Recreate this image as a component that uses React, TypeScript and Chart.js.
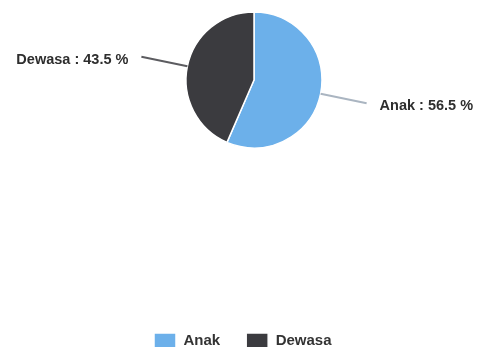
import React, { useEffect, useRef } from "react";
import { Chart, registerables } from "chart.js";

Chart.register(...registerables);

const categories = ["Anak", "Dewasa"];
const values = [56.5, 43.5];
const sliceColors = ["#6cb0ea", "#3b3b3f"];
const leaderColors = ["#aab5c1", "#5c5c60"];

const labelFont = "bold 14.5px 'Liberation Sans', Arial, sans-serif";

const outerLabels = {
  id: "outerLabels",
  afterDatasetsDraw(chart: any) {
    const ctx = chart.ctx;
    const meta = chart.getDatasetMeta(0);
    meta.data.forEach((arc: any, i: number) => {
      const { x, y, startAngle, endAngle, outerRadius } = arc.getProps(
        ["x", "y", "startAngle", "endAngle", "outerRadius"],
        true
      );
      const mid = (startAngle + endAngle) / 2;
      const c = Math.cos(mid);
      const s = Math.sin(mid);
      const x1 = x + outerRadius * c;
      const y1 = y + outerRadius * s;
      const x2 = x + (outerRadius + 47) * c;
      const y2 = y + (outerRadius + 47) * s;
      ctx.save();
      ctx.strokeStyle = leaderColors[i];
      ctx.lineWidth = 2;
      ctx.beginPath();
      ctx.moveTo(x1, y1);
      ctx.lineTo(x2, y2);
      ctx.stroke();
      ctx.font = labelFont;
      ctx.fillStyle = "#2e2e2e";
      ctx.textBaseline = "middle";
      const text = `${categories[i]} : ${values[i].toFixed(1)} %`;
      if (c >= 0) {
        ctx.textAlign = "left";
        ctx.fillText(text, x2 + 13, y2 + 3);
      } else {
        ctx.textAlign = "right";
        ctx.fillText(text, x2 - 13, y2 + 3);
      }
      ctx.restore();
    });
  },
};

export default function App() {
  const ref = useRef<HTMLCanvasElement | null>(null);

  useEffect(() => {
    const prevMargin = document.body.style.margin;
    document.body.style.margin = "0";
    document.body.style.overflow = "hidden";
    if (!ref.current) return;
    const chart = new Chart(ref.current, {
      type: "pie",
      data: {
        labels: categories,
        datasets: [
          {
            data: values,
            backgroundColor: sliceColors,
            borderColor: "#ffffff",
            borderWidth: 1.5,
            radius: 68,
          },
        ],
      },
      options: {
        responsive: false,
        animation: false,
        layout: { padding: { top: 8, left: 128, right: 98, bottom: 0 } },
        plugins: {
          tooltip: { enabled: false },
          legend: {
            position: "bottom",
            align: "start",
            maxHeight: 400,
            title: {
              display: true,
              text: "",
              font: { size: 10, lineHeight: 1 },
              padding: { top: 145, bottom: 0 },
            },
            labels: {
              boxWidth: 22,
              boxHeight: 16,
              padding: 26,
              color: "#333333",
              font: { family: "'Liberation Sans', Arial, sans-serif", size: 15, weight: "bold" },
            },
          },
        },
      },
      plugins: [outerLabels],
    });
    return () => {
      chart.destroy();
      document.body.style.margin = prevMargin;
    };
  }, []);

  return (
    <div style={{ position: "fixed", left: 0, top: 0, width: 478, height: 347, overflow: "hidden", background: "#fff" }}>
      <canvas ref={ref} width={478} height={359} style={{ display: "block" }} />
    </div>
  );
}
